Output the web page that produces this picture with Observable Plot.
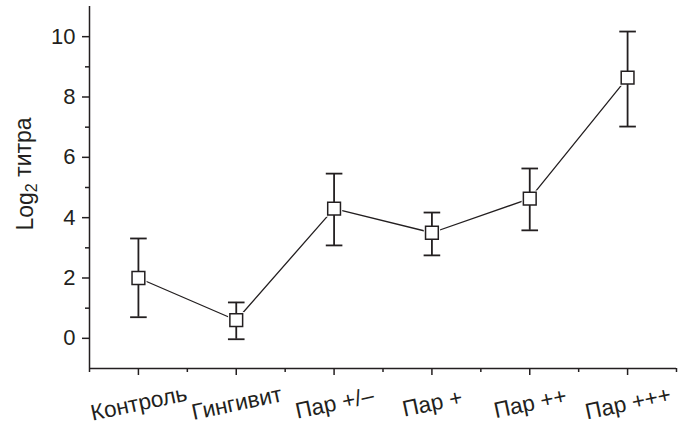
<!DOCTYPE html>
<html>
<head>
<meta charset="utf-8">
<script src="https://cdn.jsdelivr.net/npm/d3@7"></script>
<script src="https://cdn.jsdelivr.net/npm/@observablehq/plot@0.6"></script>
<style>
  body { margin: 0; background: #fff; }
  svg { display: block; }
</style>
</head>
<body>
<div id="chart"></div>
<script>
// Groups and antibody titre (log2), with the upper and lower whisker ends
const groups = ["Контроль", "Гингивит", "Пар +/–", "Пар +", "Пар ++", "Пар +++"];
const means  = [2.0, 0.6, 4.3, 3.5, 4.63, 8.64];
const upper  = [3.31, 1.19, 5.46, 4.17, 5.63, 10.17];
const lower  = [0.7, -0.03, 3.08, 2.75, 3.58, 7.02];

const yMajorTicks = [0, 2, 4, 6, 8, 10];
const yMinorTicks = [1, 3, 5, 7, 9];
const yLabelMain = "Log";
const yLabelSub = "2";
const yLabelRest = " титра";

const rows = groups.map((g, k) => ({pos: k + 1, group: g, mean: means[k], hi: upper[k], lo: lower[k]}));
const xMajor = rows.map(d => d.pos);
const xMinor = d3.range(0.5, groups.length + 1, 1);

const ink = "#231f20";
const font = "'Liberation Sans', Arial, Helvetica, sans-serif";

// horizontal whisker cap drawn as a dot symbol
const capSymbol = {
  draw(ctx, size) {
    const r = Math.sqrt(size / Math.PI);
    ctx.moveTo(-r, 0);
    ctx.lineTo(r, 0);
  }
};

const chart = Plot.plot({
  width: 686,
  height: 433,
  marginLeft: 89,
  marginRight: 10,
  marginTop: 6,
  marginBottom: 65,
  style: {fontFamily: font, fontSize: "22px", color: ink, background: "#fff"},
  x: {domain: [0.5, groups.length + 0.5]},
  y: {domain: [-1, 11]},
  marks: [
    // axis lines
    Plot.ruleX([0.5], {y1: -1, y2: 11, stroke: ink, strokeWidth: 1.5}),
    Plot.ruleY([-1], {x1: 0.5, x2: groups.length + 0.5, stroke: ink, strokeWidth: 1.5}),
    Plot.axisY(yMajorTicks, {tickSize: 7, tickPadding: 7, fontSize: 22, stroke: ink, fill: ink, strokeWidth: 1.5, label: null}),
    Plot.axisY(yMinorTicks, {tickSize: 4, stroke: ink, strokeWidth: 1.5, fill: "none", label: null}),
    Plot.axisX(xMajor, {tickSize: 7, stroke: ink, strokeWidth: 1.5, fill: "none", label: null}),
    Plot.axisX(xMinor, {tickSize: 4, stroke: ink, strokeWidth: 1.5, fill: "none", label: null}),
    // category labels, slanted
    Plot.text(rows, {x: "pos", frameAnchor: "bottom", text: "group", rotate: -12, dy: 42, dx: 2,
      fontSize: 22.5, fill: ink, textAnchor: "middle"}),
    // connecting line
    Plot.line(rows, {x: "pos", y: "mean", stroke: ink, strokeWidth: 1.3}),
    // white margin around markers so the line stops short of them
    Plot.dot(rows, {x: "pos", y: "mean", symbol: "square", r: 9.2, fill: "#fff", stroke: "none"}),
    // error bars
    Plot.ruleX(rows, {x: "pos", y1: "lo", y2: "hi", stroke: ink, strokeWidth: 1.8}),
    Plot.dot(rows, {x: "pos", y: "hi", symbol: capSymbol, r: 8.3, fill: "none", stroke: ink, strokeWidth: 1.8}),
    Plot.dot(rows, {x: "pos", y: "lo", symbol: capSymbol, r: 8.3, fill: "none", stroke: ink, strokeWidth: 1.8}),
    // markers
    Plot.dot(rows, {x: "pos", y: "mean", symbol: "square", r: 7.2, fill: "#fff", stroke: ink, strokeWidth: 1.5})
  ]
});

// y-axis title with subscript
const svg = d3.select(chart);
const title = svg.append("text")
  .attr("transform", "translate(33,174) rotate(-90)")
  .attr("text-anchor", "middle")
  .attr("fill", ink)
  .style("font-family", font)
  .style("font-size", "23px");
title.append("tspan").text(yLabelMain);
title.append("tspan").attr("dy", "0.28em").style("font-size", "16px").text(yLabelSub);
title.append("tspan").attr("dy", "-0.28em").text(yLabelRest);

document.getElementById("chart").append(chart);
</script>
</body>
</html>
